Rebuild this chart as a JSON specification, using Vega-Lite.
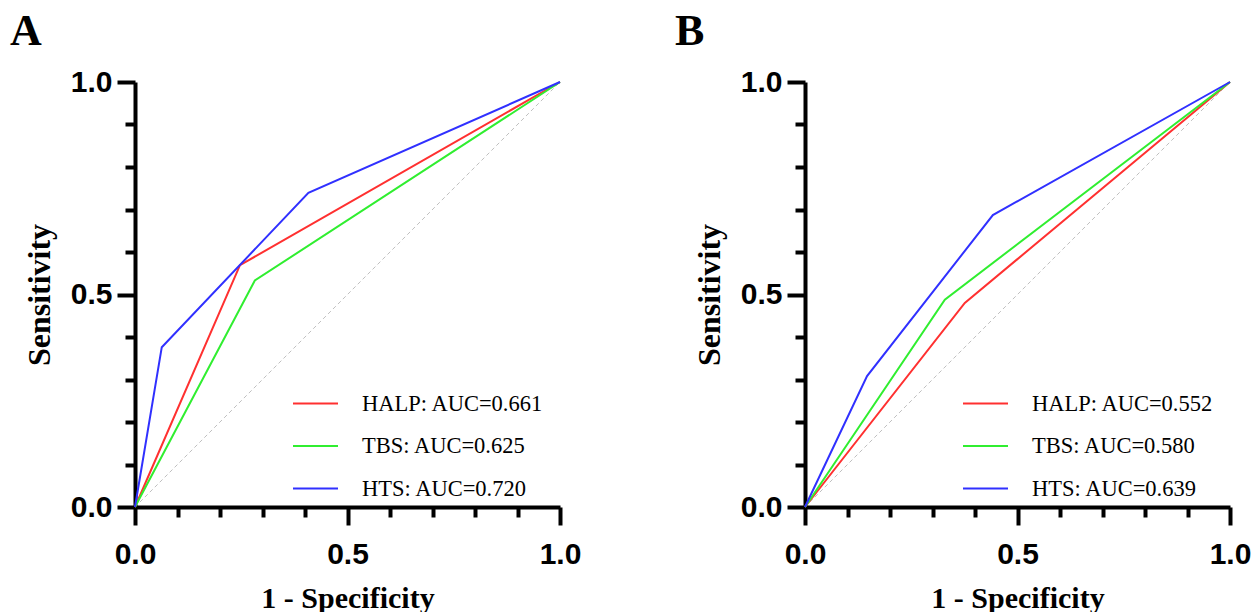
{
  "$schema": "https://vega.github.io/schema/vega-lite/v6.json",
  "padding": {"left": 10, "top": 10, "right": 5, "bottom": 5},
  "background": "white",
  "datasets": {
    "roc": [
      {"panel": "A", "curve": "HALP: AUC=0.661", "fpr": 0, "tpr": 0},
      {"panel": "A", "curve": "HALP: AUC=0.661", "fpr": 0.247, "tpr": 0.569},
      {"panel": "A", "curve": "HALP: AUC=0.661", "fpr": 1, "tpr": 1},
      {"panel": "A", "curve": "TBS: AUC=0.625", "fpr": 0, "tpr": 0},
      {"panel": "A", "curve": "TBS: AUC=0.625", "fpr": 0.282, "tpr": 0.533},
      {"panel": "A", "curve": "TBS: AUC=0.625", "fpr": 1, "tpr": 1},
      {"panel": "A", "curve": "HTS: AUC=0.720", "fpr": 0, "tpr": 0},
      {"panel": "A", "curve": "HTS: AUC=0.720", "fpr": 0.063, "tpr": 0.376},
      {"panel": "A", "curve": "HTS: AUC=0.720", "fpr": 0.408, "tpr": 0.739},
      {"panel": "A", "curve": "HTS: AUC=0.720", "fpr": 1, "tpr": 1},
      {"panel": "B", "curve": "HALP: AUC=0.552", "fpr": 0, "tpr": 0},
      {"panel": "B", "curve": "HALP: AUC=0.552", "fpr": 0.376, "tpr": 0.48},
      {"panel": "B", "curve": "HALP: AUC=0.552", "fpr": 1, "tpr": 1},
      {"panel": "B", "curve": "TBS: AUC=0.580", "fpr": 0, "tpr": 0},
      {"panel": "B", "curve": "TBS: AUC=0.580", "fpr": 0.329, "tpr": 0.488},
      {"panel": "B", "curve": "TBS: AUC=0.580", "fpr": 1, "tpr": 1},
      {"panel": "B", "curve": "HTS: AUC=0.639", "fpr": 0, "tpr": 0},
      {"panel": "B", "curve": "HTS: AUC=0.639", "fpr": 0.146, "tpr": 0.308},
      {"panel": "B", "curve": "HTS: AUC=0.639", "fpr": 0.442, "tpr": 0.687},
      {"panel": "B", "curve": "HTS: AUC=0.639", "fpr": 1, "tpr": 1}
    ],
    "diag": [
      {"fpr": 0, "tpr": 0},
      {"fpr": 1, "tpr": 1}
    ]
  },
  "hconcat": [
    {
      "width": 425,
      "height": 425,
      "title": {"text": "A", "anchor": "start", "frame": "group", "orient": "top", "baseline": "alphabetic", "offset": -22, "dx": -125, "font": "Liberation Serif", "fontSize": 44, "fontWeight": "bold", "color": "black"},
      "layer": [
        {
          "data": {"name": "diag"},
          "mark": {"type": "line", "color": "#c0c0c0", "strokeWidth": 1, "strokeDash": [4, 3]},
          "encoding": {
            "x": {"field": "fpr", "type": "quantitative", "scale": {"domain": [0, 1], "nice": false}, "axis": {"title": "1 - Specificity"}},
            "y": {"field": "tpr", "type": "quantitative", "scale": {"domain": [0, 1], "nice": false}, "axis": {"title": "Sensitivity"}}
          }
        },
        {
          "data": {"name": "roc"},
          "transform": [{"filter": "datum.panel === 'A'"}],
          "mark": {"type": "line", "strokeWidth": 2},
          "encoding": {
            "x": {"field": "fpr", "type": "quantitative", "title": "1 - Specificity"},
            "y": {"field": "tpr", "type": "quantitative", "title": "Sensitivity"},
            "color": {
              "field": "curve", "type": "nominal",
              "scale": {"domain": ["HALP: AUC=0.661", "TBS: AUC=0.625", "HTS: AUC=0.720"], "range": ["#ff3030", "#30ee30", "#3030ff"]},
              "legend": {"orient": "none", "legendX": 157, "legendY": 298}
            }
          }
        }
      ]
    },
    {
      "width": 425,
      "height": 425,
      "title": {"text": "B", "anchor": "start", "frame": "group", "orient": "top", "baseline": "alphabetic", "offset": -22, "dx": -130, "font": "Liberation Serif", "fontSize": 44, "fontWeight": "bold", "color": "black"},
      "layer": [
        {
          "data": {"name": "diag"},
          "mark": {"type": "line", "color": "#c0c0c0", "strokeWidth": 1, "strokeDash": [4, 3]},
          "encoding": {
            "x": {"field": "fpr", "type": "quantitative", "scale": {"domain": [0, 1], "nice": false}, "axis": {"title": "1 - Specificity"}},
            "y": {"field": "tpr", "type": "quantitative", "scale": {"domain": [0, 1], "nice": false}, "axis": {"title": "Sensitivity"}}
          }
        },
        {
          "data": {"name": "roc"},
          "transform": [{"filter": "datum.panel === 'B'"}],
          "mark": {"type": "line", "strokeWidth": 2},
          "encoding": {
            "x": {"field": "fpr", "type": "quantitative", "title": "1 - Specificity"},
            "y": {"field": "tpr", "type": "quantitative", "title": "Sensitivity"},
            "color": {
              "field": "curve", "type": "nominal",
              "scale": {"domain": ["HALP: AUC=0.552", "TBS: AUC=0.580", "HTS: AUC=0.639"], "range": ["#ff3030", "#30ee30", "#3030ff"]},
              "legend": {"orient": "none", "legendX": 157, "legendY": 298}
            }
          }
        }
      ]
    }
  ],
  "spacing": 245,
  "bounds": "flush",
  "resolve": {"scale": {"color": "independent"}, "legend": {"color": "independent"}},
  "config": {
    "view": {"stroke": null},
    "axis": {
      "grid": false,
      "domainColor": "black",
      "domainWidth": 4,
      "tickColor": "black",
      "tickWidth": 4,
      "tickSize": {"condition": {"test": "datum.value === 0 || datum.value === 0.5 || datum.value === 1", "value": 18}, "value": 10},
      "values": [0, 0.1, 0.2, 0.3, 0.4, 0.5, 0.6, 0.7, 0.8, 0.9, 1],
      "labelExpr": "datum.value === 0 || datum.value === 0.5 || datum.value === 1 ? format(datum.value, '.1f') : ''",
      "labelFont": "Liberation Sans",
      "labelFontSize": 30,
      "labelFontWeight": "bold",
      "labelColor": "black",
      "labelFlush": false,
      "labelOverlap": false,
      "titleFont": "Liberation Serif",
      "titleFontSize": 30,
      "titleFontWeight": "bold",
      "titleColor": "black"
    },
    "axisX": {"labelPadding": 14, "titlePadding": 14},
    "axisY": {"labelPadding": 5, "titlePadding": 14, "titleFontSize": 32},
    "legend": {
      "title": null,
      "symbolType": "stroke",
      "symbolStrokeWidth": 2,
      "symbolSize": 2025,
      "labelFont": "Liberation Serif",
      "labelFontSize": 22.5,
      "labelColor": "black",
      "labelOffset": 23,
      "labelLimit": 400,
      "rowPadding": 7.5,
      "padding": 0
    }
  }
}
